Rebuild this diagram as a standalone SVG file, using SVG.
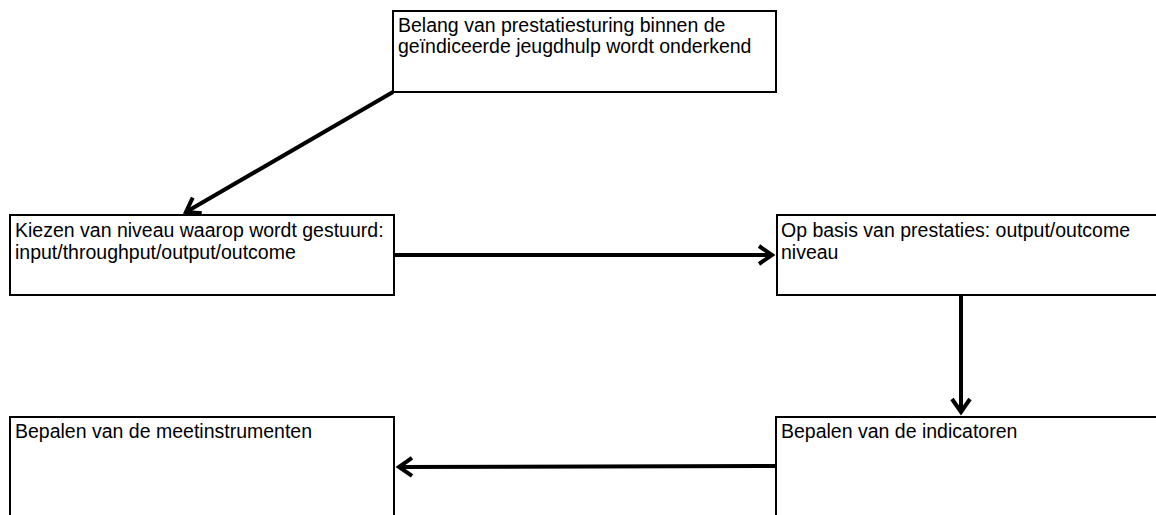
<svg xmlns="http://www.w3.org/2000/svg" width="1156" height="515" viewBox="0 0 1156 515">
<style>
.box{fill:#fff;stroke:#000;stroke-width:2}
.t{font-family:"Liberation Sans",Arial,sans-serif;font-size:19.5px;fill:#000}
.c{stroke:#000;stroke-width:4;fill:none}
</style>
<defs>
<marker id="ah" markerUnits="userSpaceOnUse" viewBox="-16 -12 20 24" refX="0" refY="0" markerWidth="20" markerHeight="24" orient="auto" overflow="visible">
<path d="M -13 -9 L 0 0 L -13 9" fill="none" stroke="#000" stroke-width="4" stroke-linejoin="miter"/>
</marker>
</defs>
<rect width="1156" height="515" fill="#fff"/>
<g id="n1">
<rect class="box" x="393" y="11" width="383" height="81"/>
<text class="t" x="398" y="32">Belang van prestatiesturing binnen de</text>
<text class="t" x="398" y="53">geïndiceerde jeugdhulp wordt onderkend</text>
</g>
<g id="n2">
<rect class="box" x="10" y="215" width="384" height="80"/>
<text class="t" x="15" y="237">Kiezen van niveau waarop wordt gestuurd:</text>
<text class="t" x="15" y="259">input/throughput/output/outcome</text>
</g>
<g id="n3">
<rect class="box" x="777" y="215" width="400" height="80"/>
<text class="t" x="781" y="237">Op basis van prestaties: output/outcome</text>
<text class="t" x="781" y="259">niveau</text>
</g>
<g id="n4">
<rect class="box" x="10" y="417" width="384" height="120"/>
<text class="t" x="15" y="438">Bepalen van de meetinstrumenten</text>
</g>
<g id="n5">
<rect class="box" x="776" y="417" width="400" height="120"/>
<text class="t" x="781" y="438">Bepalen van de indicatoren</text>
</g>
<g id="connectors">
<line class="c" x1="393" y1="92" x2="186" y2="212" marker-end="url(#ah)"/>
<line class="c" x1="395" y1="255" x2="772" y2="255" marker-end="url(#ah)"/>
<line class="c" x1="961" y1="295" x2="961" y2="412" marker-end="url(#ah)"/>
<line class="c" x1="776" y1="466" x2="399" y2="467" marker-end="url(#ah)"/>
</g>
</svg>
